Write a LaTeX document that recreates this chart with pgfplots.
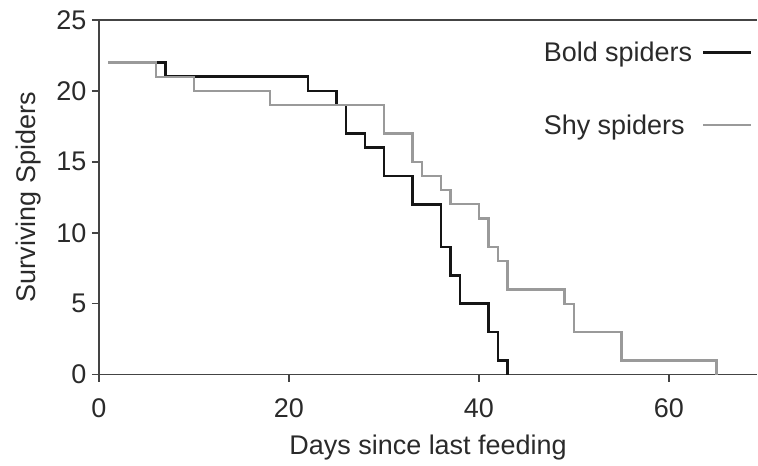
\documentclass[border=0pt]{standalone}
\usepackage{fontspec}
\setmainfont{Liberation Sans}
\usepackage{pgfplots}
\pgfplotsset{compat=1.18}
\definecolor{axcol}{HTML}{444444}
\definecolor{txtcol}{HTML}{2A2A2A}
\definecolor{boldcol}{HTML}{151515}
\definecolor{shycol}{HTML}{9A9A9A}
\newcommand{\chartfont}{\fontsize{27bp}{31bp}\selectfont}
\begin{document}
\begin{tikzpicture}
\begin{axis}[
  scale only axis,
  width=659bp, height=355bp,
  xmin=0, xmax=69.3,
  ymin=0, ymax=25,
  axis x line*=bottom,
  axis y line*=left,
  axis line style={axcol, line width=1.5bp},
  tick style={axcol, line width=1.5bp},
  tick align=outside,
  major tick length=7bp,
  xtick={0,20,40,60},
  ytick={0,5,10,15,20,25},
  /pgf/number format/assume math mode=true,
  tick label style={font=\chartfont, text=txtcol},
  yticklabel style={xshift=-2bp},
  xticklabel style={yshift=-14bp},
  label style={font=\chartfont, text=txtcol},
  xlabel={Days since last feeding},
  ylabel={Surviving Spiders},
  xlabel style={yshift=-10bp},
  ylabel style={yshift=8bp},
  clip=false,
  legend cell align=left,
  legend plot pos=right,
  legend image code/.code={\draw[#1] (0bp,0bp) -- (48bp,0bp);},
  legend style={draw=none, fill=none, font=\chartfont, text=txtcol,
    at={(rel axis cs:0.998,0.95)}, anchor=north east, row sep=48bp,
    column sep=8bp},
]
\draw[axcol, line width=1.5bp] (rel axis cs:0,1) -- (rel axis cs:1,1);
% bold spiders
\addplot[const plot, boldcol, line width=2.6bp] coordinates {
  (1,22) (7,21) (22,20) (25,19) (26,17) (28,16) (30,14) (33,12)
  (36,9) (37,7) (38,5) (41,3) (42,1) (43,0)
};
\addlegendentry{Bold spiders}
% shy spiders
\addplot[const plot, shycol, line width=2.2bp] coordinates {
  (1,22) (6,21) (10,20) (18,19) (30,17) (33,15) (34,14) (36,13)
  (37,12) (40,11) (41,9) (42,8) (43,6) (49,5) (50,3) (55,1) (65,0)
};
\addlegendentry{Shy spiders}
\end{axis}
\path ([shift={(-99bp,-91bp)}]current axis.south west) rectangle ([shift={(0bp,20bp)}]current axis.north east);
\end{tikzpicture}
\end{document}
